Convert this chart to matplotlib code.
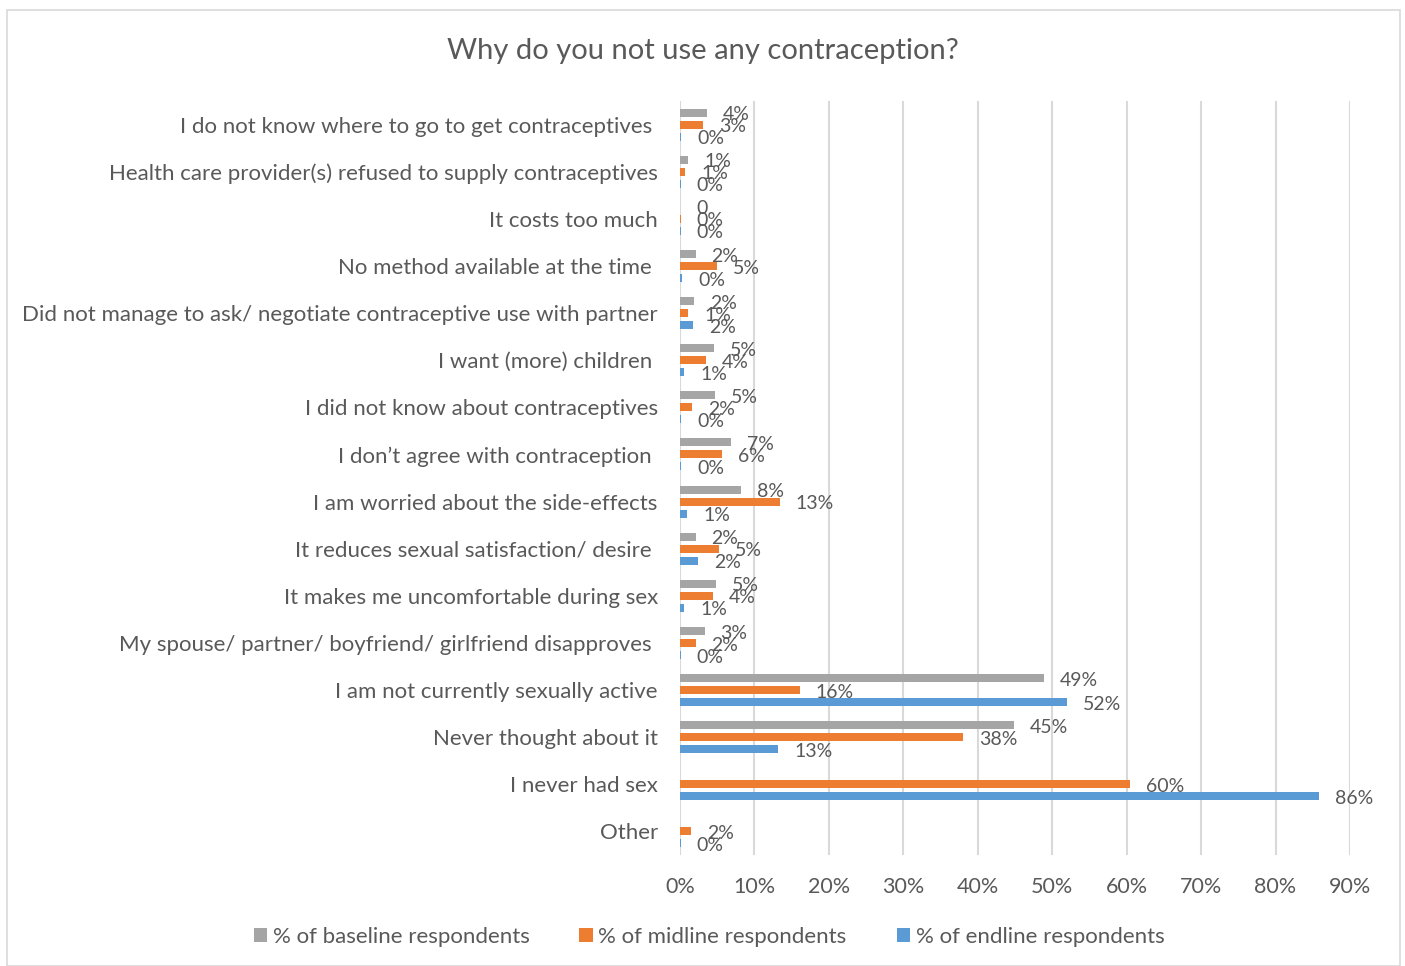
"""Horizontal grouped bars: reasons for not using contraception by survey round"""
import matplotlib.pyplot as plt
from matplotlib.patches import Patch, Rectangle
from matplotlib.ticker import FuncFormatter
import numpy as np

plt.rcParams['font.family'] = ['Lato', 'DejaVu Sans']

reasons = [
    "I do not know where to go to get contraceptives ",
    "Health care provider(s) refused to supply contraceptives",
    "It costs too much",
    "No method available at the time ",
    "Did not manage to ask/ negotiate contraceptive use with partner",
    "I want (more) children ",
    "I did not know about contraceptives",
    "I don\u2019t agree with contraception ",
    "I am worried about the side-effects",
    "It reduces sexual satisfaction/ desire ",
    "It makes me uncomfortable during sex",
    "My spouse/ partner/ boyfriend/ girlfriend disapproves ",
    "I am not currently sexually active",
    "Never thought about it",
    "I never had sex",
    "Other",
]

# percent of respondents; None = no bar / no label
baseline = [3.6, 1.1, 0, 2.1, 1.9, 4.6, 4.7, 6.8, 8.2, 2.1, 4.8, 3.3, 48.9, 44.9, None, None]
midline = [3.1, 0.7, 0.1, 5.0, 1.1, 3.5, 1.6, 5.6, 13.4, 5.2, 4.4, 2.1, 16.1, 38.0, 60.5, 1.5]
endline = [0.2, 0.1, 0.1, 0.3, 1.8, 0.6, 0.2, 0.2, 1.0, 2.4, 0.6, 0.1, 52.0, 13.2, 85.8, 0.1]

series_names = ["% of baseline respondents", "% of midline respondents", "% of endline respondents"]
colors = ["#a5a5a5", "#ed7d31", "#5b9bd5"]

# the baseline "It costs too much" value carries a plain number format
label_fmt = {(0, 2): "{:.0f}"}

text_col = "#595959"
W, H = 1405, 966
fig = plt.figure(figsize=(W / 100, H / 100), dpi=100)
fig.patches.append(Rectangle((7 / W, 0), (1400 - 7) / W, 1 - 10 / H, transform=fig.transFigure,
                             fill=False, edgecolor="#d9d9d9", linewidth=1.2))

ax = fig.add_axes([680 / W, 1 - 855 / H, (1350 - 680) / W, (855 - 101) / H])

y = np.arange(len(reasons))
offset = 0.255
height = 0.17
for k, (vals, col) in enumerate(zip([baseline, midline, endline], colors)):
    pos = y + (k - 1) * offset
    for i, v in enumerate(vals):
        if v is None:
            continue
        ax.barh(pos[i], v, height=height, color=col, zorder=3)
        fmt = label_fmt.get((k, i), "{:.0f}%")
        ax.annotate(fmt.format(v), (v, pos[i]), xytext=(11.5, -1.5), textcoords="offset points",
                    ha="left", va="center", fontsize=14, color=text_col, zorder=4)

ax.set_ylim(len(reasons) - 0.5, -0.5)
ax.set_xlim(0, 90)
ax.set_xticks(np.arange(0, 91, 10))
ax.xaxis.set_major_formatter(FuncFormatter(lambda x, pos: "{:.0f}%".format(x)))
ax.set_yticks(y)
ax.set_yticklabels(reasons)
ax.tick_params(axis="both", length=0, colors=text_col)
ax.tick_params(axis="y", pad=16, labelsize=16)
ax.tick_params(axis="x", pad=15.5, labelsize=15.5)
ax.grid(axis="x", color="#d9d9d9", linewidth=1.5, zorder=0)
for s in ax.spines.values():
    s.set_visible(False)

fig.text(0.5, 1 - 51 / H, "Why do you not use any contraception?", ha="center", va="center",
         fontsize=21, color=text_col)

handles = [Patch(facecolor=c, edgecolor="none") for c in colors]
fig.legend(handles, series_names, loc="center", bbox_to_anchor=(709 / W, 1 - 937 / H), ncol=3,
           frameon=False, fontsize=16, labelcolor=text_col, handlelength=0.6, handleheight=0.6,
           handletextpad=0.25, columnspacing=2.25)

fig.savefig("out.png", dpi=100)
